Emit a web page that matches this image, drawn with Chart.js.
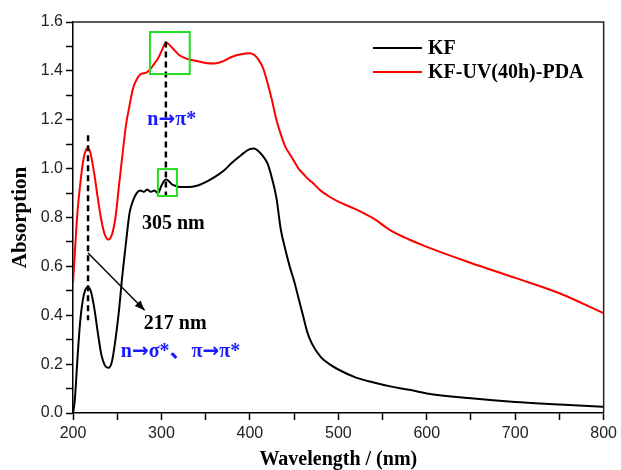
<!DOCTYPE html>
<html>
<head>
<meta charset="utf-8">
<script src="https://cdn.jsdelivr.net/npm/chart.js@4.4.1/dist/chart.umd.min.js"></script>
<style>
  html, body { margin: 0; padding: 0; background: #ffffff; }
  #wrap { width: 621px; height: 470px; }
</style>
</head>
<body>
<div id="wrap"><canvas id="c" width="621" height="470"></canvas></div>
<script>
// ---- data ----
const wavelength = [200, 202, 205, 208, 211, 214, 217, 220, 224, 228, 232, 236, 240, 244, 248, 252, 256, 260, 264, 268, 272, 276, 280, 284, 288, 292, 296, 300, 303, 305, 308, 312, 316, 320, 325, 330, 340, 350, 360, 370, 380, 390, 400, 405, 410, 415, 420, 425, 430, 435, 440, 445, 450, 455, 460, 465, 470, 480, 490, 500, 520, 540, 560, 580, 600, 650, 700, 750, 800];
const kf = [0.0, 0.05, 0.22, 0.37, 0.46, 0.505, 0.515, 0.50, 0.43, 0.33, 0.24, 0.195, 0.185, 0.21, 0.30, 0.42, 0.57, 0.70, 0.82, 0.87, 0.90, 0.91, 0.905, 0.915, 0.905, 0.91, 0.90, 0.93, 0.95, 0.955, 0.95, 0.935, 0.93, 0.925, 0.925, 0.925, 0.93, 0.945, 0.965, 0.99, 1.025, 1.055, 1.08, 1.082, 1.07, 1.05, 1.02, 0.96, 0.88, 0.75, 0.67, 0.60, 0.54, 0.47, 0.40, 0.33, 0.285, 0.23, 0.20, 0.178, 0.145, 0.125, 0.108, 0.095, 0.08, 0.06, 0.045, 0.035, 0.025];
const kfPda = [0.53, 0.65, 0.82, 0.93, 1.02, 1.07, 1.085, 1.06, 0.98, 0.88, 0.79, 0.73, 0.71, 0.73, 0.80, 0.93, 1.06, 1.18, 1.26, 1.33, 1.365, 1.385, 1.39, 1.395, 1.41, 1.43, 1.45, 1.48, 1.505, 1.515, 1.51, 1.495, 1.48, 1.465, 1.455, 1.448, 1.44, 1.432, 1.43, 1.44, 1.458, 1.468, 1.472, 1.465, 1.445, 1.41, 1.35, 1.28, 1.20, 1.14, 1.09, 1.06, 1.03, 1.00, 0.98, 0.96, 0.945, 0.91, 0.885, 0.865, 0.833, 0.795, 0.745, 0.71, 0.68, 0.614, 0.553, 0.49, 0.408];
const seriesNames = ['KF', 'KF-UV(40h)-PDA'];
const xTickLabels = ['200', '300', '400', '500', '600', '700', '800'];
const yTickLabels = ['0.0', '0.2', '0.4', '0.6', '0.8', '1.0', '1.2', '1.4', '1.6'];

// annotations (data coordinates)
const peakLines = [[217, 1.137, 0.38], [305, 1.52, 0.884]];           // [x, yTop, yBottom]
const greenBoxes = [[287, 1.559, 332, 1.387], [296, 0.998, 317.5, 0.888]]; // [x1, y1, x2, y2]
const arrowLine = [217, 0.655, 281, 0.42];
const notes = [
  ['305 nm', 278, 0.773, '#000000'],
  ['217 nm', 280, 0.364, '#000000'],
  ['n\u2192\u03c3*\u3001\u03c0\u2192\u03c0*', 254, 0.25, '#1a1aff'],
  ['n\u2192\u03c0*', 284, 1.199, '#1a1aff']
];

const toPoints = (ys) => wavelength.map((w, i) => ({x: w, y: ys[i]}));
const serif = "'Liberation Serif', 'Times New Roman', 'Noto Sans CJK SC', serif";
const sans = "'Liberation Sans', Arial, sans-serif";
const arrowFont = "bold 20px 'DejaVu Sans', sans-serif";
const cjkFont = "bold 22px 'Noto Sans CJK SC', sans-serif";

function drawRuns(ctx, text, x0, y0) {
  let cx = x0;
  for (const ch of text) {
    let dy = 0;
    if (ch === '\u2192') ctx.font = arrowFont;
    else if (ch === '\u3001') { ctx.font = cjkFont; dy = -3; }
    else ctx.font = 'bold 20px ' + serif;
    ctx.fillText(ch, cx, y0 + dy);
    cx += ctx.measureText(ch).width;
  }
}

const decorPlugin = {
  id: 'decor',
  afterDatasetsDraw(chart) {
    const {ctx, chartArea: a, scales: {x, y}} = chart;
    ctx.save();
    // frame top & right
    ctx.strokeStyle = '#222';
    ctx.lineWidth = 1.5;
    ctx.beginPath();
    ctx.moveTo(a.left, a.top); ctx.lineTo(a.right, a.top); ctx.lineTo(a.right, a.bottom);
    ctx.stroke();

    // dashed peak lines
    ctx.strokeStyle = '#000';
    ctx.lineWidth = 2.5;
    ctx.setLineDash([6, 4]);
    peakLines.forEach(([px, y1, y2]) => {
      ctx.beginPath();
      ctx.moveTo(x.getPixelForValue(px), y.getPixelForValue(y1));
      ctx.lineTo(x.getPixelForValue(px), y.getPixelForValue(y2));
      ctx.stroke();
    });
    ctx.setLineDash([]);

    // green boxes
    ctx.strokeStyle = '#22dd22';
    ctx.lineWidth = 2;
    greenBoxes.forEach(([x1, y1, x2, y2]) => {
      const X1 = x.getPixelForValue(x1), Y1 = y.getPixelForValue(y1);
      const X2 = x.getPixelForValue(x2), Y2 = y.getPixelForValue(y2);
      ctx.strokeRect(X1, Y1, X2 - X1, Y2 - Y1);
    });

    // arrow
    const ax1 = x.getPixelForValue(arrowLine[0]), ay1 = y.getPixelForValue(arrowLine[1]);
    const ax2 = x.getPixelForValue(arrowLine[2]), ay2 = y.getPixelForValue(arrowLine[3]);
    ctx.strokeStyle = '#000'; ctx.fillStyle = '#000'; ctx.lineWidth = 1.4;
    ctx.beginPath(); ctx.moveTo(ax1, ay1); ctx.lineTo(ax2, ay2); ctx.stroke();
    const ang = Math.atan2(ay2 - ay1, ax2 - ax1);
    const hl = 10, hw = 4;
    ctx.beginPath();
    ctx.moveTo(ax2, ay2);
    ctx.lineTo(ax2 - hl * Math.cos(ang) + hw * Math.sin(ang), ay2 - hl * Math.sin(ang) - hw * Math.cos(ang));
    ctx.lineTo(ax2 - hl * Math.cos(ang) - hw * Math.sin(ang), ay2 - hl * Math.sin(ang) + hw * Math.cos(ang));
    ctx.closePath(); ctx.fill();

    // notes
    ctx.textBaseline = 'middle';
    ctx.textAlign = 'left';
    notes.forEach(([t, nx, ny, col]) => {
      ctx.fillStyle = col;
      drawRuns(ctx, t, x.getPixelForValue(nx), y.getPixelForValue(ny));
    });

    // legend
    chart.data.datasets.forEach((ds, i) => {
      const ly = a.top + 26 + i * 24;
      ctx.strokeStyle = ds.borderColor; ctx.lineWidth = 2;
      ctx.beginPath(); ctx.moveTo(a.left + 300, ly); ctx.lineTo(a.left + 349, ly); ctx.stroke();
      ctx.fillStyle = '#000';
      ctx.font = 'bold 20px ' + serif;
      ctx.fillText(ds.label, a.left + 355, ly + 1);
    });
    ctx.restore();
  }
};

new Chart(document.getElementById('c'), {
  type: 'line',
  data: {
    datasets: [
      { label: seriesNames[0], data: toPoints(kf), borderColor: '#000000', borderWidth: 2, pointRadius: 0, cubicInterpolationMode: 'monotone', fill: false },
      { label: seriesNames[1], data: toPoints(kfPda), borderColor: '#ff0000', borderWidth: 2, pointRadius: 0, cubicInterpolationMode: 'monotone', fill: false }
    ]
  },
  options: {
    responsive: false,
    animation: false,
    devicePixelRatio: 1,
    layout: { padding: { top: 22, right: 17, left: 0, bottom: 0 } },
    plugins: { legend: { display: false }, tooltip: { enabled: false } },
    scales: {
      x: {
        type: 'linear', min: 200, max: 800,
        afterFit(s) { s.height = 57; },
        grid: { drawOnChartArea: false, drawTicks: true, tickLength: 7, tickColor: '#000', tickWidth: 1.5 },
        border: { display: true, color: '#000', width: 1.5 },
        ticks: {
          stepSize: 50, autoSkip: false, maxRotation: 0, padding: 4, color: '#222',
          font: { family: sans, size: 16 },
          callback: (v) => { const s = String(Math.round(v)); return xTickLabels.includes(s) ? s : ''; }
        },
        title: { display: true, text: 'Wavelength / (nm)', color: '#000', padding: 0,
                 font: { family: serif, size: 20, weight: 'bold', lineHeight: 1 } }
      },
      y: {
        type: 'linear', min: 0, max: 1.6,
        afterFit(s) { s.width = 73; },
        grid: { drawOnChartArea: false, drawTicks: true, tickLength: 7, tickColor: '#000', tickWidth: 1.5 },
        border: { display: true, color: '#000', width: 1.5 },
        ticks: {
          stepSize: 0.1, autoSkip: false, padding: 3, color: '#222',
          font: { family: sans, size: 16 },
          callback: (v) => { const s = (Math.round(v * 10) / 10).toFixed(1); return yTickLabels.includes(s) ? s : ''; }
        },
        title: { display: true, text: 'Absorption', color: '#000', padding: { top: 10 },
                 font: { family: serif, size: 21, weight: 'bold', lineHeight: 1 } }
      }
    }
  },
  plugins: [decorPlugin]
});
</script>
</body>
</html>
